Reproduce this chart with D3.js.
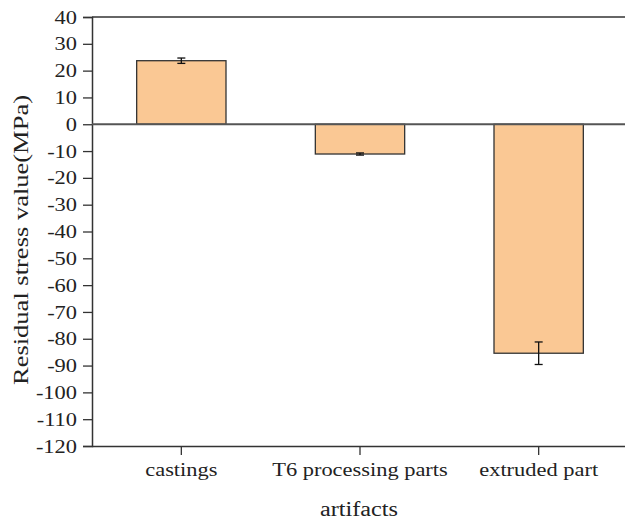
<!DOCTYPE html>
<html>
<head>
<meta charset="utf-8">
<script src="https://cdn.jsdelivr.net/npm/d3@7"></script>
<style>
  body { margin: 0; background: #fff; }
  svg text { font-family: 'Liberation Serif', 'Times New Roman', serif; fill: #222; }
</style>
</head>
<body>
<div id="chart"></div>
<script>
// data
const categories = ['castings', 'T6 processing parts', 'extruded part'];
const values = [23.7, -11.1, -85.4];
const errors = [1.0, 0.4, 4.2];
const yTicks = [40, 30, 20, 10, 0, -10, -20, -30, -40, -50, -60, -70, -80, -90, -100, -110, -120];

const W = 625, H = 523;
const plotLeft = 92, plotRight = 628, plotTop = 17, plotBottom = 446;

const svg = d3.select('#chart').append('svg')
  .attr('width', W)
  .attr('height', H);

const x = d3.scaleBand()
  .domain(categories)
  .range([plotLeft, plotRight])
  .paddingInner(0.5)
  .paddingOuter(0.25);

const y = d3.scaleLinear().domain([-120, 40]).range([plotBottom, plotTop]);

// frame top line
svg.append('line')
  .attr('x1', plotLeft).attr('x2', W)
  .attr('y1', y(40)).attr('y2', y(40))
  .attr('stroke', '#333').attr('stroke-width', 1.5);

// y axis (plain hyphen for negatives, like the reference)
const yAxis = svg.append('g')
  .attr('transform', `translate(${plotLeft},0)`)
  .call(d3.axisLeft(y).tickValues(yTicks).tickSize(9).tickPadding(6).tickFormat(d => String(d)));
yAxis.select('.domain').attr('stroke', '#333').attr('stroke-width', 1.5);
yAxis.selectAll('.tick line').attr('stroke', '#333').attr('stroke-width', 1.3);
yAxis.selectAll('text').style('font-size', '19px').attr('fill', '#222');

// x axis
const xAxis = svg.append('g')
  .attr('transform', `translate(0,${plotBottom})`)
  .call(d3.axisBottom(x).tickSize(9).tickPadding(8).tickSizeOuter(0));
xAxis.select('.domain').attr('d', `M${plotLeft},0.5H${W}`).attr('stroke', '#333').attr('stroke-width', 1.5);
xAxis.selectAll('.tick line').attr('stroke', '#333').attr('stroke-width', 1.3);
xAxis.selectAll('text').style('font-size', '19px').attr('fill', '#222');

// bars
svg.selectAll('rect.bar')
  .data(values)
  .join('rect')
  .attr('class', 'bar')
  .attr('x', (d, i) => x(categories[i]))
  .attr('width', x.bandwidth())
  .attr('y', d => y(Math.max(0, d)))
  .attr('height', d => Math.abs(y(d) - y(0)))
  .attr('fill', '#FAC894')
  .attr('stroke', '#333')
  .attr('stroke-width', 1.3);

// zero line
svg.append('line')
  .attr('x1', plotLeft).attr('x2', W)
  .attr('y1', y(0)).attr('y2', y(0))
  .attr('stroke', '#555').attr('stroke-width', 1.8);

// error bars
const eb = svg.selectAll('g.err')
  .data(values)
  .join('g')
  .attr('class', 'err')
  .attr('transform', (d, i) => `translate(${x(categories[i]) + x.bandwidth() / 2},0)`);
eb.append('line')
  .attr('y1', (d, i) => y(d + errors[i]))
  .attr('y2', (d, i) => y(d - errors[i]))
  .attr('stroke', '#111').attr('stroke-width', 1.3);
eb.append('line')
  .attr('x1', -4).attr('x2', 4)
  .attr('y1', (d, i) => y(d + errors[i]))
  .attr('y2', (d, i) => y(d + errors[i]))
  .attr('stroke', '#111').attr('stroke-width', 1.3);
eb.append('line')
  .attr('x1', -4).attr('x2', 4)
  .attr('y1', (d, i) => y(d - errors[i]))
  .attr('y2', (d, i) => y(d - errors[i]))
  .attr('stroke', '#111').attr('stroke-width', 1.3);

// axis titles
svg.append('text')
  .attr('class', 'title')
  .attr('x', 359).attr('y', 516)
  .attr('text-anchor', 'middle')
  .style('font-size', '20px')
  .text('artifacts');

svg.append('text')
  .attr('class', 'title')
  .attr('transform', 'translate(28,240) rotate(-90)')
  .attr('text-anchor', 'middle')
  .style('font-size', '20px')
  .text('Residual stress value(MPa)');

// the reference text is drawn a bit wider than the font, stretch it
svg.selectAll('.tick text').each(function () {
  const len = this.getComputedTextLength();
  d3.select(this).attr('textLength', len * 1.18).attr('lengthAdjust', 'spacingAndGlyphs');
});
svg.selectAll('text.title').each(function (d, i) {
  d3.select(this).attr('textLength', i === 0 ? 78 : 290).attr('lengthAdjust', 'spacingAndGlyphs');
});
</script>
</body>
</html>
